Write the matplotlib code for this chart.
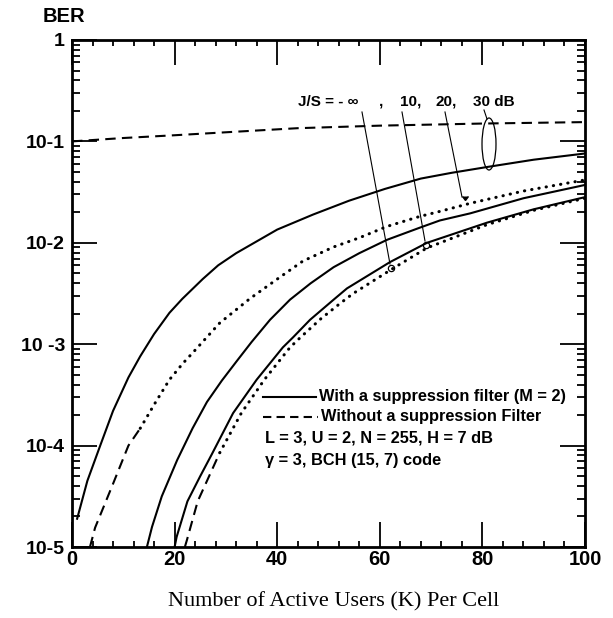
import matplotlib
matplotlib.use('Agg')
import matplotlib.pyplot as plt
from matplotlib.ticker import MultipleLocator, LogLocator, NullFormatter
from matplotlib.patches import Ellipse
import numpy as np

plt.rcParams['font.family'] = ['Liberation Sans', 'DejaVu Sans']
plt.rcParams['font.weight'] = 'bold'

# BER vs number of active users K, one list per curve
a_k = [1, 3, 5.5, 8, 11, 13.3, 16, 19, 21.5, 25.5, 28.5, 32, 40, 47, 54, 61, 68, 74, 81, 90, 100]
a_ber = [1.9e-5, 4.5e-5, 1.0e-4, 2.2e-4, 4.7e-4, 7.6e-4, 1.26e-3, 2.04e-3, 2.8e-3, 4.4e-3,
         6.0e-3, 7.9e-3, 1.35e-2, 1.9e-2, 2.6e-2, 3.4e-2, 4.3e-2, 4.9e-2, 5.6e-2, 6.6e-2, 7.6e-2]

b_k = [3.5, 4.5, 8, 11, 13.3, 16.2, 19, 21.6, 23.6, 28.8, 34.7, 40.5, 45, 51, 56, 61.4, 67.8,
       71.7, 77.6, 88, 100]
b_ber = [1.0e-5, 1.55e-5, 4.2e-5, 1.0e-4, 1.48e-4, 2.63e-4, 4.47e-4, 6.46e-4, 8.3e-4, 1.62e-3,
         2.82e-3, 4.57e-3, 6.6e-3, 9.1e-3, 1.12e-2, 1.45e-2, 1.82e-2, 2.04e-2, 2.45e-2, 3.24e-2,
         4.17e-2]

c_k = [14.6, 15.6, 17.5, 20.5, 23.5, 26.3, 29.2, 32.2, 35, 38.6, 42.5, 46.5, 51, 56, 61.4, 67.8,
       71.7, 77.6, 88, 100]
c_ber = [1.0e-5, 1.58e-5, 3.16e-5, 7.2e-5, 1.48e-4, 2.69e-4, 4.37e-4, 6.9e-4, 1.05e-3, 1.74e-3,
         2.75e-3, 3.98e-3, 5.75e-3, 7.9e-3, 1.07e-2, 1.41e-2, 1.66e-2, 1.95e-2, 2.75e-2, 3.72e-2]

d_k = [20, 20.4, 22.5, 25, 27.3, 31.4, 36, 41.1, 43.1, 46.4, 51, 53.6, 62, 69.2, 80.9, 90, 100]
d_ber = [1.0e-5, 1.26e-5, 2.82e-5, 5.0e-5, 8.3e-5, 2.09e-4, 4.47e-4, 9.3e-4, 1.17e-3, 1.74e-3,
         2.75e-3, 3.55e-3, 6.46e-3, 1.0e-2, 1.58e-2, 2.14e-2, 2.82e-2]

e_k = [22, 22.4, 24.5, 28.8, 33, 37.5, 42.5, 44.4, 48.5, 52.2, 54.8, 62.6, 69.2, 80.9, 90, 100]
e_ber = [1.0e-5, 1.17e-5, 2.82e-5, 8.5e-5, 2.09e-4, 4.47e-4, 9.3e-4, 1.15e-3, 1.78e-3, 2.51e-3,
         3.16e-3, 5.6e-3, 8.9e-3, 1.51e-2, 2.09e-2, 2.75e-2]

f_k = [0, 10, 20, 30, 44, 60, 80, 100]
f_ber = [0.100, 0.108, 0.115, 0.123, 0.135, 0.143, 0.150, 0.155]

x_ticks = [0, 20, 40, 60, 80, 100]
y_ticks = [1e-5, 1e-4, 1e-3, 1e-2, 1e-1, 1]
y_labels = ['10-5', '10-4', '10 -3', '10-2', '10-1', '1']

W, H = 613, 618
L, R, T, B = 72, 585, 40, 547

fig = plt.figure(figsize=(W / 100, H / 100), dpi=100)
ax = fig.add_axes([L / W, 1 - B / H, (R - L) / W, (B - T) / H])


def afrac(px, py):
    # pixel position -> axes fraction
    return (px - L) / (R - L), (B - py) / (B - T)


dash = (0, (5, 3))
dots = (0, (0.1, 2.3))
lw = 1.5
dlw = 2.2

ax.plot(a_k, a_ber, '-', color='black', lw=lw)
ax.plot(b_k[:5], b_ber[:5], color='black', lw=lw, linestyle=dash)
ax.plot(b_k[4:], b_ber[4:], color='black', lw=dlw, linestyle=dots, dash_capstyle='round')
ax.plot(c_k, c_ber, '-', color='black', lw=lw)
ax.plot(d_k, d_ber, '-', color='black', lw=lw)
ax.plot(e_k[:4], e_ber[:4], color='black', lw=lw, linestyle=dash)
ax.plot(e_k[3:], e_ber[3:], color='black', lw=dlw, linestyle=dots, dash_capstyle='round')
ax.plot(f_k, f_ber, color='black', lw=lw, linestyle=dash)

ax.set_xlim(0, 100)
ax.set_yscale('log')
ax.set_ylim(1e-5, 1)
ax.set_xticks(x_ticks)
ax.xaxis.set_minor_locator(MultipleLocator(4))
ax.set_yticks(y_ticks, y_labels)
ax.yaxis.set_minor_locator(LogLocator(base=10, subs=np.arange(2, 10)))
ax.yaxis.set_minor_formatter(NullFormatter())
ax.tick_params(which='both', direction='in', top=True, right=True, width=1.3, color='black')
ax.tick_params(axis='x', which='major', length=18, pad=2, labelsize=14.5)
ax.tick_params(axis='x', which='minor', length=4.5)
ax.tick_params(axis='y', which='major', length=18, pad=5, labelsize=14)
ax.tick_params(axis='y', which='minor', length=6)
for s in ax.spines.values():
    s.set_linewidth(2.0)

# J/S labels and leader lines
for px, txt in [(298, 'J/S = - \u221e'), (379, ','), (400, '10,'), (435, '20,'), (473, '30 dB')]:
    ax.text(*afrac(px, 102), txt, transform=ax.transAxes, fontsize=11, va='center', ha='left')
leaders = [((362, 112), (390, 264)), ((402, 112), (425, 241)),
           ((445, 112), (462, 197)), ((484, 110), (487, 119))]
for p0, p1 in leaders:
    x0, y0 = afrac(*p0)
    x1, y1 = afrac(*p1)
    ax.plot([x0, x1], [y0, y1], transform=ax.transAxes, color='black', lw=0.8)
for px, py in [(391, 268), (426, 245)]:
    ax.plot(*afrac(px, py), 'o', transform=ax.transAxes, ms=4.5, mfc='none', mec='black', mew=0.9)
ax.plot(*afrac(465, 200), marker=7, transform=ax.transAxes, ms=4, color='black')
ax.add_patch(Ellipse(afrac(489, 144), 14 / (R - L), 52 / (B - T), transform=ax.transAxes,
                     fill=False, lw=0.9, color='black'))

# legend and parameters
ax.plot([afrac(263, 0)[0], afrac(316, 0)[0]], [afrac(0, 397)[1]] * 2, transform=ax.transAxes,
        color='black', lw=lw)
ax.plot([afrac(263, 0)[0], afrac(318, 0)[0]], [afrac(0, 417)[1]] * 2, transform=ax.transAxes,
        color='black', lw=lw, linestyle=(0, (4, 2.5)))
fs = 11.8
ax.text(*afrac(319, 397), 'With a suppression filter (M = 2)', transform=ax.transAxes,
        fontsize=fs, va='center', ha='left')
ax.text(*afrac(321, 417), 'Without a suppression Filter', transform=ax.transAxes,
        fontsize=fs, va='center', ha='left')
ax.text(*afrac(265, 438), 'L = 3, U = 2, N = 255, H = 7 dB', transform=ax.transAxes,
        fontsize=fs, va='center', ha='left')
ax.text(*afrac(265, 461), '\u03b3 = 3, BCH (15, 7) code', transform=ax.transAxes,
        fontsize=fs, va='center', ha='left')

fig.text(64 / W, 1 - 16 / H, 'BER', fontsize=14.5, ha='center', va='center')
fig.text(334 / W, 1 - 602 / H, 'Number of Active Users (K) Per Cell', family='Liberation Serif',
         weight='normal', fontsize=16, ha='center', va='center')

fig.savefig('out.png', dpi=100, facecolor='white')
